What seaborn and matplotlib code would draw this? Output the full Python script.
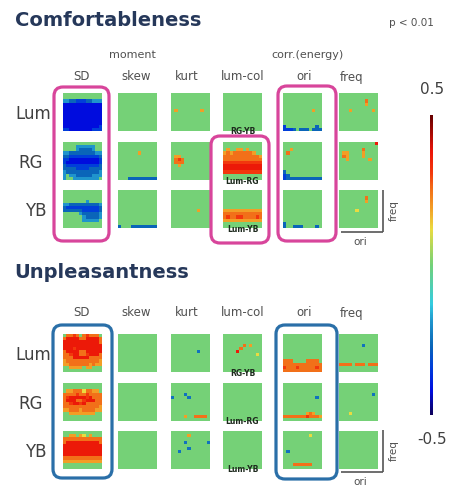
import numpy as np
import matplotlib
matplotlib.use("Agg")
import matplotlib.pyplot as plt
import seaborn as sns
from matplotlib.colors import LinearSegmentedColormap
from matplotlib.patches import FancyBboxPatch

# values per cell, coded as characters (rows = freq, cols = ori)
levels = {'.': 0.0, 'D': -0.42, 'B': -0.34, 'b': -0.27, 't': -0.25, 'c': -0.19,
          'y': 0.12, 'o': 0.19, 'O': 0.25, 'r': 0.31, 'R': 0.37}

features = ["SD", "skew", "kurt", "lum-col", "ori", "freq"]
channels = ["Lum", "RG", "YB"]
lumcol_pairs = ["RG-YB", "Lum-RG", "Lum-YB"]

BLANK = ["............"] * 12

# ---------------- Comfortableness ----------------
comf_sd = [
    ["............",
     "............",
     "ccbbBBBbbccc",
     "DDDDDDDDDDDD",
     "DDDDDDDDDDDD",
     "DDDDDDDDDDDD",
     "DDDDDDDDDDDD",
     "DDDDDDDDDDDD",
     "DDDDDDDDDDDD",
     "DDDDDDDDDDDD",
     "DDDDDDDDDDDB",
     "BBDDDDDDDBBB"],
    ["............",
     "....cccccc..",
     "....cbbbbc..",
     "ccbbbbbbbbcc",
     "bbBBBBBBBBBb",
     "BBDDDDDDDDDB",
     "BDDDDDDDDDDB",
     "bBBBBBBBBBBb",
     "bbbbBBBBbbbb",
     "cbbbbbbbbbbc",
     "c.ccbbbbbccc",
     "c..cccccccc."],
    ["............",
     "............",
     "............",
     ".......c....",
     "ccbbbbbbbbbc",
     "bBBBBBBBBBBb",
     "bbbbbbBBBBBb",
     ".....cbbbbbc",
     "......cbbbbc",
     "......ccccc.",
     "............",
     "............"],
]
comf_skew = [
    BLANK,
    ["............",
     "............",
     "............",
     "......o.....",
     "............",
     "............",
     "............",
     "............",
     "............",
     "............",
     "............",
     "...bbbbbbbbb"],
    ["............",
     "............",
     "............",
     "............",
     "............",
     "............",
     "............",
     "............",
     "............",
     "............",
     "............",
     "b...bbbbbbbb"],
]
comf_kurt = [
    ["............",
     "............",
     "............",
     "............",
     "............",
     ".o.......o..",
     "............",
     "............",
     "............",
     "............",
     "............",
     "............"],
    ["............",
     "............",
     "............",
     "............",
     ".oo.........",
     ".OrO........",
     ".OOO........",
     "..o.........",
     "............",
     "............",
     "............",
     "............"],
    ["............",
     "............",
     "............",
     "............",
     "............",
     "............",
     "........o...",
     "............",
     "............",
     "............",
     "............",
     "............"],
]
comf_lumcol = [
    BLANK,
    ["............",
     "............",
     ".o..oo.o....",
     "oOoOOOOOOo..",
     "OOOOOOOOOOOo",
     "OOOOOOOOOOOO",
     "rrrrrrrrrrrr",
     "RRRRRRRRRRRR",
     "RRRRRRRRRRRR",
     "rrrrrrrrrrrr",
     "............",
     "............"],
    ["............",
     "............",
     "............",
     "............",
     "............",
     "............",
     "oooooooooooo",
     "OOOOOOOOOOOO",
     "OrOOrrOOOOrO",
     "oooooooooooo",
     "............",
     "............"],
]
comf_ori = [
    ["............",
     "............",
     "............",
     "............",
     "............",
     ".........o..",
     "............",
     "............",
     "............",
     "............",
     "B.........b.",
     "BBBb.bbb.bbb"],
    ["............",
     "............",
     "..o.........",
     ".O..........",
     "............",
     "............",
     "............",
     "............",
     "............",
     "b...........",
     "Bb..........",
     "Bbbbbbbbbbbb"],
    ["............",
     "............",
     "............",
     "............",
     "............",
     "............",
     "............",
     "............",
     "............",
     "............",
     "b...........",
     "b..bbb....b."],
]
comf_freq = [
    ["............",
     "............",
     "........O...",
     "........o...",
     "............",
     "...o......o.",
     "............",
     "............",
     "............",
     "............",
     "............",
     "............"],
    ["...........R",
     "............",
     ".......O....",
     ".oo....o....",
     ".Oo....o....",
     "..o......o..",
     "............",
     "............",
     "............",
     "............",
     "............",
     "............"],
    ["............",
     "............",
     "........O...",
     "........o...",
     "............",
     "............",
     ".....y......",
     "............",
     "............",
     "............",
     "............",
     "............"],
]

# ---------------- Unpleasantness ----------------
unpl_sd = [
    [".OOrO.OrOOO.",
     "ORRRROORRRRO",
     "RRRRRRRRRRRO",
     "RRRRRRRRRRRR",
     "RRRrRRRRRRRR",
     "ORRRROORRRRR",
     "OOrRROOrRRRO",
     "OOORRRRROOOO",
     "oOOOOOOOOOOo",
     "ooOOOOOOoOoo",
     "..oooo.oo...",
     "............"],
    ["............",
     "............",
     ".ooOOOyOOoo.",
     "OOOOrOOrOOOO",
     "OrRRRRRrROOO",
     "ORRROOrRRROO",
     "OOrRRrROOOOO",
     "OOOOOOOOOOOo",
     "ooOOOoOOOOoo",
     "..oooooooo..",
     "............",
     "............"],
    ["............",
     "..oo.oy.o...",
     "OOOOOOOOOOOO",
     "ORRRRRRRRRRO",
     "RRRRRRRRRRRR",
     "RRRRRRRRRRRR",
     "RRRRRRRRRRRR",
     "RRRRRRRRRRRR",
     "OOOOOOOOOOOO",
     "oooooooooooo",
     "............",
     "............"],
]
unpl_skew = [BLANK, BLANK, BLANK]
unpl_kurt = [
    ["............",
     "............",
     "............",
     "............",
     "............",
     "........t...",
     "............",
     "............",
     "............",
     "............",
     "............",
     "............"],
    ["............",
     "............",
     "............",
     "....t.......",
     "t....t......",
     "............",
     "............",
     "............",
     "............",
     "............",
     "....o..OOOO.",
     "............"],
    ["............",
     ".....o......",
     "............",
     "....t......t",
     "............",
     ".....t......",
     "..t.........",
     "............",
     "............",
     "............",
     "............",
     "............"],
]
unpl_lumcol = [
    ["............",
     "............",
     "............",
     "......O.o...",
     ".....O......",
     "....R.......",
     "..........y.",
     "............",
     "............",
     "............",
     "............",
     "............"],
    BLANK,
    BLANK,
]
unpl_ori = [
    ["............",
     "............",
     "............",
     "............",
     "............",
     "............",
     "............",
     "............",
     "OOO....OOOO.",
     "OOOOOOOOOOOO",
     "rOOOrOOOOOrO",
     "OOOOOOOOOOOO"],
    ["............",
     "............",
     "............",
     "............",
     "..........t.",
     "............",
     "............",
     "............",
     "............",
     ".......oOo..",
     "OOOOOOOrOOOo",
     "............"],
    ["............",
     "........y...",
     "............",
     "............",
     "............",
     "............",
     ".t..........",
     "............",
     "............",
     "............",
     "...OOOOOO...",
     "............"],
]
unpl_freq = [
    ["............",
     "............",
     "............",
     ".......t....",
     "............",
     "............",
     "............",
     "............",
     "............",
     "OOOO.OOO.OOO",
     "............",
     "............"],
    ["............",
     "............",
     "............",
     "..........t.",
     "............",
     "............",
     "............",
     "............",
     "............",
     "...y........",
     "............",
     "............"],
    BLANK,
]

comf = [comf_sd, comf_skew, comf_kurt, comf_lumcol, comf_ori, comf_freq]
unpl = [unpl_sd, unpl_skew, unpl_kurt, unpl_lumcol, unpl_ori, unpl_freq]


def to_array(grid):
    return np.array([[levels[ch] for ch in row] for row in grid])


# jet-like map with the muted green of the original
cmap = LinearSegmentedColormap.from_list("mjet", [
    (0.00, (0.05, 0.00, 0.35)),
    (0.08, (0.00, 0.05, 0.88)),
    (0.16, (0.00, 0.25, 0.85)),
    (0.23, (0.04, 0.40, 0.72)),
    (0.31, (0.12, 0.58, 0.80)),
    (0.37, (0.20, 0.80, 0.88)),
    (0.50, (0.45, 0.82, 0.47)),
    (0.62, (0.92, 0.86, 0.25)),
    (0.69, (0.95, 0.62, 0.15)),
    (0.75, (0.95, 0.45, 0.10)),
    (0.81, (0.95, 0.22, 0.05)),
    (0.88, (0.92, 0.08, 0.03)),
    (1.00, (0.40, 0.00, 0.00)),
])

W, H = 451, 487
fig = plt.figure(figsize=(W / 100, H / 100), dpi=100)


def px(x0, y0, w, h):
    return [x0 / W, 1 - (y0 + h) / H, w / W, h / H]


col_x = [63, 118, 171, 223, 283, 339]
pw, ph = 39, 38
top_rows = [93, 142, 190]
bot_rows = [334, 383, 431]

cax = fig.add_axes(px(430, 115, 3, 300))
first = True
for section, rows_y in [(comf, top_rows), (unpl, bot_rows)]:
    for j, col in enumerate(section):
        for i, grid in enumerate(col):
            ax = fig.add_axes(px(col_x[j], rows_y[i], pw, ph))
            sns.heatmap(to_array(grid), ax=ax, cmap=cmap, vmin=-0.5, vmax=0.5,
                        cbar=first, cbar_ax=cax if first else None,
                        xticklabels=False, yticklabels=False)
            ax.tick_params(length=0)
            if first:
                cb = ax.collections[0].colorbar
                cb.outline.set_visible(False)
                cb.set_ticks([])
                first = False

# overlay in pixel coordinates for text and boxes
ov = fig.add_axes([0, 0, 1, 1], zorder=10)
ov.set_xlim(0, W)
ov.set_ylim(H, 0)
ov.axis("off")
ov.patch.set_alpha(0)

title_c = "#26385a"
lab_c = "#505050"
ov.text(15, 20, "Comfortableness", fontsize=14, fontweight="bold", color=title_c,
        ha="left", va="center")
ov.text(14, 272, "Unpleasantness", fontsize=14, fontweight="bold", color=title_c,
        ha="left", va="center")
ov.text(411, 23, "p < 0.01", fontsize=7.5, color=lab_c, ha="center", va="center")
ov.text(132, 55, "moment", fontsize=8, color=lab_c, ha="center", va="center")
ov.text(308, 55, "corr.(energy)", fontsize=8, color=lab_c, ha="center", va="center")

head_x = [82, 136, 187, 243, 304, 352]
for hx, name in zip(head_x, features):
    ov.text(hx, 77, name, fontsize=8.5, color=lab_c, ha="center", va="center")
    ov.text(hx, 313, name, fontsize=8.5, color=lab_c, ha="center", va="center")

row_lab_x = [33, 31, 36]
for k, name in enumerate(channels):
    ov.text(row_lab_x[k], top_rows[k] + 21, name, fontsize=12, color="#404040",
            ha="center", va="center")
    ov.text(row_lab_x[k], bot_rows[k] + 21, name, fontsize=12, color="#404040",
            ha="center", va="center")
    for rows_y in (top_rows, bot_rows):
        ov.text(col_x[3] + pw / 2, rows_y[k] + ph + 1, lumcol_pairs[k], fontsize=5.5,
                fontweight="bold", color="#1e2a1e", ha="center", va="center")

ov.text(432, 89, "0.5", fontsize=11, color="#404040", ha="center", va="center")
ov.text(432, 440, "-0.5", fontsize=11, color="#404040", ha="center", va="center")

# highlight boxes
pink = "#d8459b"
blue = "#2a6fa8"
for (x0, y0, x1, y1, c) in [(54, 87, 109, 241, pink), (211, 136, 269, 243, pink),
                             (278, 86, 336, 241, pink), (53, 325, 112, 478, blue),
                             (276, 325, 337, 479, blue)]:
    ov.add_patch(FancyBboxPatch((x0, y0), x1 - x0, y1 - y0,
                                boxstyle="round,pad=0,rounding_size=9",
                                fill=False, ec=c, lw=2.3))

# small ori / freq axis key
for y_top, y_bot in [(190, 232), (430, 472)]:
    ov.plot([383, 383], [y_top, y_bot], color="#555555", lw=1.2, solid_capstyle="butt")
    ov.plot([341, 383], [y_bot, y_bot], color="#555555", lw=1.2, solid_capstyle="butt")
    ov.text(394, (y_top + y_bot) / 2, "freq", rotation=90, fontsize=7.5, color=lab_c,
            ha="center", va="center")
    ov.text(360, y_bot + 10, "ori", fontsize=7.5, color=lab_c, ha="center", va="center")

fig.savefig("out.png", dpi=100)
